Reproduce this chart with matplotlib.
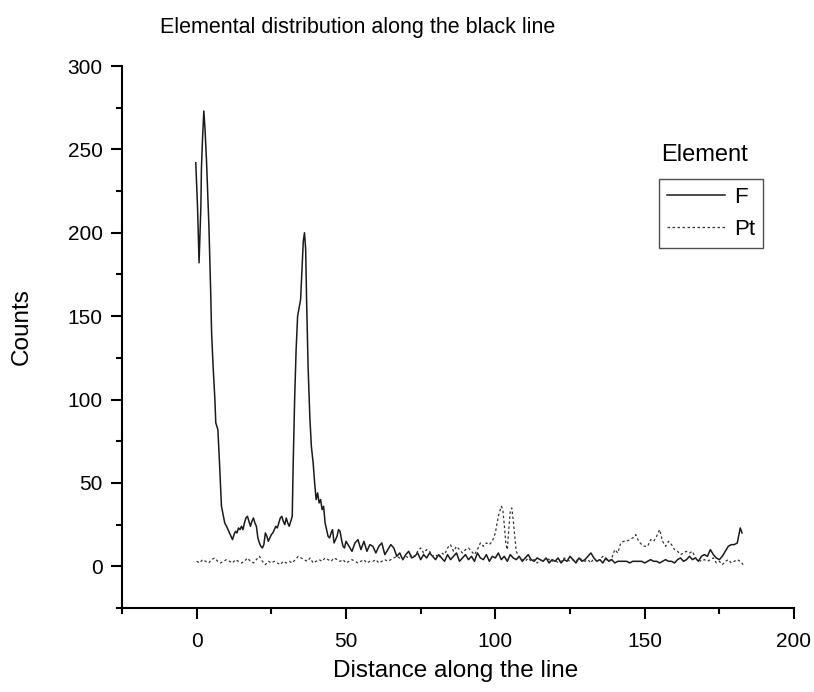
import numpy as np
import matplotlib
matplotlib.use("Agg")
import matplotlib.pyplot as plt
from matplotlib.ticker import MultipleLocator

plt.rcParams["font.family"] = ["Liberation Sans", "DejaVu Sans"]

TITLE = "Elemental distribution along the black line"
X_LABEL = "Distance along the line"
Y_LABEL = "Counts"
LEGEND_TITLE = "Element"
SERIES_NAMES = ["F", "Pt"]

# F: fine sampling over the two peaks
F_HEAD_X = [-0.3, 0.3, 0.8, 1.4, 1.6, 2.0, 2.4, 2.8, 3.3, 4.1, 4.7, 5.0, 5.5, 6.1, 6.4,
            7.1, 7.7, 8.3, 9.4, 10.0, 10.5, 11.0, 11.5, 12.0, 12.5, 13.0, 13.5, 14.0,
            14.5, 15.0, 15.5, 16.0, 16.5, 17.0, 17.5, 18.0, 18.5, 19.0, 19.5, 20.0,
            20.5, 21.0, 21.5, 22.0, 22.5, 23.0, 23.5, 24.0, 24.5, 25.0, 25.5, 26.0,
            26.5, 27.0, 27.5, 28.0, 28.5, 29.0, 29.5, 30.0, 30.5, 31.0, 31.5, 32.0,
            32.3, 32.8, 33.3, 33.8, 34.3, 34.8, 35.2, 35.7, 36.1, 36.5, 36.8, 37.3,
            37.9, 38.4, 39.0, 39.5, 40.0, 40.5, 41.0, 41.5, 42.0, 42.5, 43.0, 43.5,
            44.0, 44.5, 45.0, 45.5, 46.0, 46.5, 47.0, 47.5, 48.0, 48.5, 49.0, 49.5]
F_HEAD_Y = [242, 215, 182, 215, 239, 258, 273, 262, 243, 204, 164, 140, 120, 100, 86,
            82, 60, 36, 26, 24, 22, 20, 18, 16, 19, 21, 20, 23,
            22, 24, 22, 26, 29, 30, 27, 24, 27, 29, 26, 24,
            17, 14, 12, 11, 13, 20, 18, 15, 17, 19, 20, 22,
            24, 23, 26, 29, 30, 27, 25, 29, 26, 24, 27, 30,
            60, 100, 130, 150, 155, 160, 175, 195, 200, 190, 160, 120,
            89, 72, 62, 50, 40, 44, 38, 40, 34, 36, 26, 22,
            18, 17, 20, 22, 14, 16, 18, 22, 21, 16, 12, 11]
# F from x = 50 onwards, one reading per unit of distance
F_TAIL_START = 50
F_TAIL_Y = [15, 12, 9, 14, 16, 10, 15, 9, 13, 12, 8, 12, 14, 7, 10, 13, 11,
            6, 8, 4, 7, 9, 5, 6, 8, 4, 7, 5, 8, 6, 4, 7,
            5, 3, 7, 4, 6, 8, 3, 5, 7, 4, 6, 3, 8, 5, 4, 7, 3, 6, 5, 8, 4, 6, 3, 7,
            5, 4, 6, 3, 5, 7, 4, 3, 5, 4,
            3, 5, 2, 4, 3, 5, 2, 4, 3, 6, 4, 2, 5, 3, 4, 6, 8, 5, 3, 4, 2, 5, 3, 4, 2, 3,
            3, 3, 3, 2, 3, 3, 3, 3, 2, 3, 4, 3, 3, 2, 3, 4, 3, 3, 2, 4, 5, 3, 4, 6, 4, 5, 3, 6,
            7, 6, 10, 7, 5, 4, 6, 9, 12, 13, 13, 14, 23]
F_END = (182.6, 20)

# Pt: one reading per unit, with a finer stretch over the double peak near 100
PT_A_Y = [3, 2, 4, 3, 2, 4, 5, 3, 2, 3, 4, 3, 2, 4, 3, 2, 3, 5, 3, 2, 4, 6, 3, 1,
          3, 2, 3, 2, 1, 3, 2, 3, 2, 4, 6, 5, 4, 3, 5, 2, 3, 4, 3, 5, 4, 3, 5, 4,
          3, 4, 2, 3, 4, 3, 2, 3, 4, 2, 3, 3, 4, 2, 3, 4, 3, 4, 5, 6, 5, 4, 6,
          5, 7, 6, 9, 11, 8, 10, 9, 6, 7, 5, 8, 7, 11, 13, 9, 12, 10, 8, 10, 11,
          9, 7, 10, 14, 12, 14]
PT_PEAK_X = [98, 99, 100, 101, 102, 102.5, 103, 103.5, 104, 104.5, 105, 105.5,
             106, 106.5, 107, 108]
PT_PEAK_Y = [13, 15, 20, 30, 36, 34, 25, 14, 10, 22, 33, 35, 28, 18, 9, 5]
PT_B_START = 109
PT_B_Y = [4, 3, 5, 3, 4, 2, 4, 3, 5, 4, 3, 4, 2, 3, 5, 4, 3, 4, 3, 5, 4, 3, 4, 2,
          5, 3, 4, 6, 4, 3, 5,
          10, 8, 14, 15, 15, 16, 17, 19, 15, 13, 12, 12, 16, 15, 18, 22, 15, 12,
          15, 13, 10, 9, 7, 8, 9, 8, 9,
          5, 4, 3, 4, 3, 4, 5, 2, 3, 1, 3, 4, 2, 3, 4, 3, 1]

if __name__ == "__main__":
    f_x = np.concatenate([F_HEAD_X, F_TAIL_START + np.arange(len(F_TAIL_Y)), [F_END[0]]])
    f_y = np.concatenate([F_HEAD_Y, F_TAIL_Y, [F_END[1]]])
    pt_x = np.concatenate([np.arange(len(PT_A_Y)), PT_PEAK_X,
                           PT_B_START + np.arange(len(PT_B_Y))])
    pt_y = np.concatenate([PT_A_Y, PT_PEAK_Y, PT_B_Y])

    fig = plt.figure(figsize=(8.14, 6.92), dpi=100)
    ax = fig.add_axes([122 / 814, 1 - 608 / 692, (794 - 122) / 814, (608 - 66) / 692])

    ax.plot(f_x, f_y, color="#1a1a1a", lw=1.1, label=SERIES_NAMES[0])
    ax.plot(pt_x, pt_y, color="#333333", lw=0.9, linestyle=(0, (2, 2)),
            label=SERIES_NAMES[1])

    ax.set_xlim(-25, 200)
    ax.set_ylim(-25, 300)
    ax.xaxis.set_major_locator(MultipleLocator(50))
    ax.xaxis.set_minor_locator(MultipleLocator(25))
    ax.yaxis.set_major_locator(MultipleLocator(50))
    ax.yaxis.set_minor_locator(MultipleLocator(25))
    ax.spines["top"].set_visible(False)
    ax.spines["right"].set_visible(False)
    for side in ("left", "bottom"):
        ax.spines[side].set_linewidth(1.5)
    ax.tick_params(which="major", direction="out", length=8, width=1.5,
                   labelsize=15, pad=6)
    ax.tick_params(axis="x", which="major", pad=9)
    ax.tick_params(which="minor", direction="out", length=4.5, width=1.5)

    fig.text(358 / 814, 1 - 28 / 692, TITLE, ha="center", va="center", fontsize=15.5)
    fig.text(456 / 814, 1 - 677 / 692, X_LABEL, ha="center", va="baseline", fontsize=17.5)
    fig.text(22 / 814, 1 - 327 / 692, Y_LABEL, ha="center", va="center",
             rotation=90, fontsize=17.5)
    fig.text(661 / 814, 1 - 155 / 692, LEGEND_TITLE, ha="left", va="center", fontsize=17)

    leg = ax.legend(loc="upper left", bbox_to_anchor=(659 / 814, 1 - 179 / 692),
                    bbox_transform=fig.transFigure, fontsize=16, frameon=True,
                    fancybox=False, edgecolor="#222222", handlelength=2.6,
                    handletextpad=0.45, borderpad=0.35, labelspacing=0.5,
                    borderaxespad=0)
    leg.get_frame().set_linewidth(1.0)

    fig.savefig("out.png", dpi=100, facecolor="white")
